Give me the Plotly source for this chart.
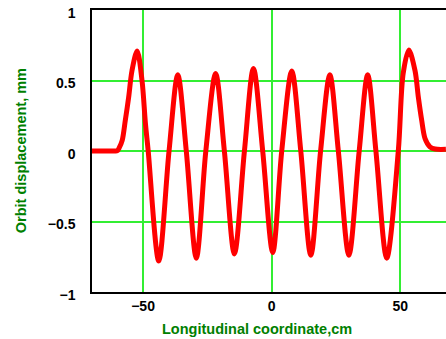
import plotly.graph_objects as go

# Closed-orbit displacement along the undulator axis
position_cm = [-70, -61, -60, -59.2, -58.1, -56.9, -55.6, -54.3, -52.3, -50.4,
               -49.1, -48.0, -43.9, -39.9, -36.5, -33.2, -29.3, -25.6, -21.8,
               -18.4, -14.5, -10.6, -7.1, -3.5, 0.4, 3.9, 7.8, 11.3, 15.2, 19.0,
               22.6, 25.9, 30.0, 34.0, 37.3, 40.5, 44.7, 49.2, 51.1, 53.3, 55.7,
               57.0, 58.3, 59.6, 61.5, 63.5, 67.7]
displacement_mm = [0, 0, 0.002, 0.025, 0.075, 0.217, 0.38, 0.57, 0.71, 0.5,
                   0.2, 0, -0.78, 0, 0.54, 0, -0.76, 0, 0.55,
                   0, -0.73, 0, 0.585, 0, -0.72, 0, 0.567, 0, -0.74, 0,
                   0.54, 0, -0.74, 0, 0.54, 0, -0.76, 0, 0.55, 0.716, 0.57,
                   0.38, 0.217, 0.088, 0.03, 0.014, 0.012]

x_ticks = [-50, 0, 50]
y_ticks = [-1, -0.5, 0, 0.5, 1]
y_tick_labels = ["\u22121", "\u22120.5", "0", "0.5", "1"]

grid_green = "#33ee33"
title_green = "#008000"
font_family = "Liberation Sans, Arial, sans-serif"

fig = go.Figure()
fig.add_trace(go.Scatter(
    x=position_cm, y=displacement_mm, mode="lines",
    line=dict(color="#ff0000", width=5, shape="spline", smoothing=0.9),
    showlegend=False, hoverinfo="skip",
))

fig.update_layout(
    width=446, height=339,
    margin=dict(l=92, r=0, t=10, b=47),
    paper_bgcolor="white", plot_bgcolor="white",
    font=dict(family=font_family, size=14, color="black"),
    xaxis=dict(
        range=[-69.84, 67.74], tickvals=x_ticks,
        showgrid=True, gridcolor=grid_green, gridwidth=1.5,
        zeroline=False, showline=True, linecolor="black", linewidth=1.5,
        mirror=True, ticks="", ticklabelstandoff=0,
        tickfont=dict(family=font_family, size=14, weight="bold"),
    ),
    yaxis=dict(
        range=[-1, 1], tickvals=y_ticks, ticktext=y_tick_labels,
        showgrid=True, gridcolor=grid_green, gridwidth=1.5,
        zeroline=False, showline=True, linecolor="black", linewidth=1.5,
        mirror=False, ticks="", ticklabelstandoff=12, ticklabelshift=3,
        ticklabeloverflow="allow",
        tickfont=dict(family=font_family, size=14, weight="bold"),
    ),
    annotations=[
        dict(text="Longitudinal coordinate,cm", xref="x", yref="paper",
             x=-5.7, y=-0.13, xanchor="center", yanchor="middle",
             showarrow=False,
             font=dict(family=font_family, size=14.5, color=title_green, weight="bold")),
        dict(text="Orbit displacement, mm", xref="paper", yref="paper",
             x=-0.2, y=0.5, xanchor="center", yanchor="middle", textangle=-90,
             showarrow=False,
             font=dict(family=font_family, size=14.5, color=title_green, weight="bold")),
    ],
)

fig.write_html("out.html")
